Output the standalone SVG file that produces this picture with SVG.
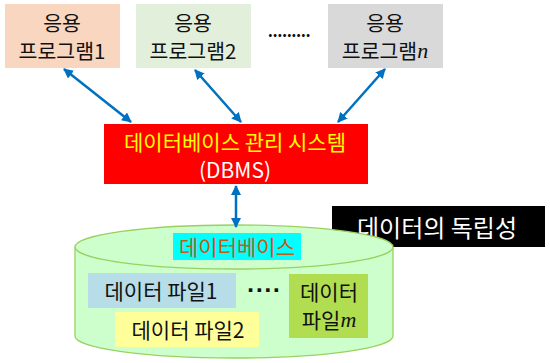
<svg xmlns="http://www.w3.org/2000/svg" width="550" height="363" viewBox="0 0 550 363">
<defs>
<style>
text{font-family:"Noto Sans CJK KR","Noto Sans",sans-serif;text-anchor:middle;dominant-baseline:central}
.app{font-size:20.5px;fill:#111}
.math{font-family:"Liberation Serif",serif;font-style:italic}
.conn{stroke:#0070c0;stroke-width:2.5;fill:none;marker-start:url(#ah);marker-end:url(#ah)}
</style>
<marker id="ah" viewBox="0 0 10 10" refX="9" refY="5" markerWidth="4" markerHeight="4" orient="auto-start-reverse" markerUnits="strokeWidth">
<path d="M0,0 L10,5 L0,10 z" fill="#0070c0"/>
</marker>
</defs>
<rect width="550" height="363" fill="#fff"/>
<g id="app1">
<rect x="5" y="4" width="115" height="64" fill="#f8d6c0"/>
<text class="app" x="62" y="22">응용</text>
<text class="app" x="62" y="50">프로그램1</text>
</g>
<g id="app2">
<rect x="136" y="4" width="115" height="64" fill="#e2efda"/>
<text class="app" x="193" y="22">응용</text>
<text class="app" x="193" y="50">프로그램2</text>
</g>
<g id="appdots">
<text x="289" y="30" style="font-size:16px;font-weight:bold;fill:#111;letter-spacing:-0.5px">.........</text>
</g>
<g id="appn">
<rect x="328" y="4" width="115" height="64" fill="#d9d9d9"/>
<text class="app" x="385" y="22">응용</text>
<text class="app" x="385" y="50">프로그램<tspan class="math" style="font-size:22px">n</tspan></text>
</g>
<g id="dbms">
<rect x="104" y="124" width="264" height="60" fill="#ff0000"/>
<text x="235" y="141" style="font-size:21px;fill:#ffff00">데이터베이스 관리 시스템</text>
<text x="235" y="169" style="font-size:21px;fill:#fff">(DBMS)</text>
</g>
<g id="independence">
<rect x="332" y="206" width="213" height="41" fill="#000"/>
<text x="437" y="226" style="font-size:24px;fill:#fff">데이터의 독립성</text>
</g>
<g id="database">
<path d="M75,247 L75,336 A159,22 0 0 0 393,336 L393,247" fill="#ccffcc" stroke="#9bd060" stroke-width="1.3"/>
<ellipse cx="234" cy="247" rx="159" ry="22" fill="#ccffcc" stroke="#9bd060" stroke-width="1.3"/>
<rect x="173" y="233" width="128" height="27" fill="#00ffff"/>
<text x="237" y="246" style="font-size:21px;fill:#c55a11">데이터베이스</text>
</g>
<g id="file1">
<rect x="88" y="273" width="148" height="35" fill="#b7dde8"/>
<text x="161" y="290" style="font-size:21px;fill:#111">데이터 파일1</text>
</g>
<g id="file2">
<rect x="115" y="312" width="144" height="35" fill="#ffff99"/>
<text x="188" y="329" style="font-size:21px;fill:#111">데이터 파일2</text>
</g>
<g id="filedots">
<text x="264" y="290" style="font-family:'DejaVu Sans',sans-serif;font-size:20px;font-weight:bold;fill:#111;letter-spacing:1px">····</text>
</g>
<g id="filem">
<rect x="289" y="274" width="79" height="64" fill="#b0de50"/>
<text x="329" y="291" style="font-size:21px;fill:#111">데이터</text>
<text x="329" y="319" style="font-size:21px;fill:#111">파일<tspan class="math" style="font-size:22px">m</tspan></text>
</g>
<g id="connectors">
<line class="conn" x1="64" y1="69" x2="131" y2="122"/>
<line class="conn" x1="195" y1="70" x2="241" y2="122"/>
<line class="conn" x1="385" y1="69" x2="338" y2="122"/>
<line class="conn" x1="236" y1="186" x2="236" y2="227"/>
</g>
</svg>
